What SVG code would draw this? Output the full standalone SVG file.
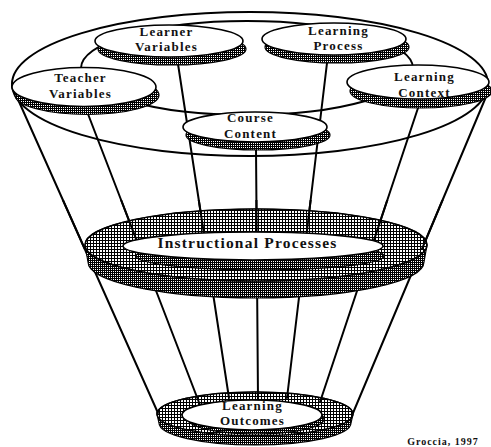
<svg xmlns="http://www.w3.org/2000/svg" xmlns:xlink="http://www.w3.org/1999/xlink" width="491" height="447" viewBox="0 0 491 447">
<style>
.ring{fill:none;stroke:#000;stroke-width:2}
.conn line{stroke:#000;stroke-width:2;stroke-linecap:round}
.face{fill:#fff;stroke:#000;stroke-width:1.6}
.shade{fill:url(#dense);stroke:#000;stroke-width:1.2}
.grid{fill:url(#grid);stroke:#000;stroke-width:1.6}
.lbl{font-family:"Liberation Serif","Times New Roman",serif;font-weight:bold;font-size:13px;letter-spacing:1.2px;text-anchor:middle;fill:#111}
.big{font-size:15.5px;letter-spacing:1.2px}
.cite{font-size:10px;letter-spacing:1px}
</style>
<defs>
<pattern id="grid" width="3" height="3" patternUnits="userSpaceOnUse">
<rect width="3" height="3" fill="#fff"/>
<path d="M0 0.5H3M0.5 0V3" stroke="#000" stroke-width="1"/>
</pattern>
<pattern id="dense" width="2" height="2" patternUnits="userSpaceOnUse">
<rect width="2" height="2" fill="#000"/>
<rect x="1" y="1" width="1" height="1" fill="#fff"/>
</pattern>
<clipPath id="upper"><rect x="0" y="200" width="491" height="50"/></clipPath>
</defs>

<g id="funnel-rims">
<ellipse class="ring" cx="250" cy="84" rx="238" ry="72"/>
<ellipse class="ring" cx="247" cy="68" rx="166" ry="47"/>
</g>

<g id="learning-outcomes-base">
<path class="shade" d="M157 414 A98 22 0 0 1 353 414 L351 423 A96 22 0 0 1 159 423 Z"/>
<ellipse class="grid" cx="255" cy="414" rx="98" ry="22"/>
</g>

<g id="connectors" class="conn">
<line x1="12" y1="86" x2="158" y2="413"/>
<line x1="88" y1="114" x2="200" y2="405"/>
<line x1="178" y1="64" x2="229" y2="398"/>
<line x1="256" y1="148" x2="258" y2="400"/>
<line x1="327" y1="63" x2="287" y2="398"/>
<line x1="418" y1="108" x2="320" y2="402"/>
<line x1="488" y1="92" x2="353" y2="413"/>
</g>

<g id="instructional-processes">
<path class="shade" d="M85 245 A171 36 0 0 1 427 245 L424 262 A168 36 0 0 1 88 262 Z"/>
<ellipse class="grid" cx="256" cy="245" rx="171" ry="36"/>
<use xlink:href="#connectors" clip-path="url(#upper)"/>
<ellipse class="shade" cx="260" cy="256" rx="124" ry="14"/>
<ellipse class="face" cx="253" cy="246" rx="130" ry="14"/>
<text class="lbl big" x="247.5" y="248">Instructional Processes</text>
</g>

<g id="learning-outcomes">
<ellipse class="shade" cx="256" cy="419" rx="68" ry="15"/>
<ellipse class="face" cx="252" cy="415" rx="70" ry="15"/>
<text class="lbl" x="252.5" y="410">Learning</text>
<text class="lbl" x="252.5" y="425">Outcomes</text>
</g>

<g id="learner-variables">
<ellipse class="shade" cx="172" cy="49" rx="74" ry="16"/>
<ellipse class="face" cx="169" cy="41" rx="74" ry="16"/>
<text class="lbl" x="166.5" y="36">Learner</text>
<text class="lbl" x="166.5" y="51">Variables</text>
</g>

<g id="learning-process">
<ellipse class="shade" cx="337" cy="47" rx="72" ry="16"/>
<ellipse class="face" cx="334" cy="39" rx="72" ry="16"/>
<text class="lbl" x="338.5" y="35">Learning</text>
<text class="lbl" x="338.5" y="50">Process</text>
</g>

<g id="teacher-variables">
<ellipse class="shade" cx="87" cy="95" rx="72" ry="19.5"/>
<ellipse class="face" cx="84" cy="87" rx="72" ry="19.5"/>
<text class="lbl" x="80.5" y="82">Teacher</text>
<text class="lbl" x="80.5" y="98">Variables</text>
</g>

<g id="learning-context">
<ellipse class="shade" cx="421" cy="91" rx="71" ry="17"/>
<ellipse class="face" cx="418" cy="82" rx="71" ry="17"/>
<text class="lbl" x="424.5" y="81">Learning</text>
<text class="lbl" x="424.5" y="97">Context</text>
</g>

<g id="course-content">
<ellipse class="shade" cx="258" cy="135" rx="72" ry="15"/>
<ellipse class="face" cx="255" cy="127" rx="72" ry="15"/>
<text class="lbl" x="250.5" y="122">Course</text>
<text class="lbl" x="250.5" y="138">Content</text>
</g>

<text class="lbl cite" x="443" y="445">Groccia, 1997</text>
</svg>
